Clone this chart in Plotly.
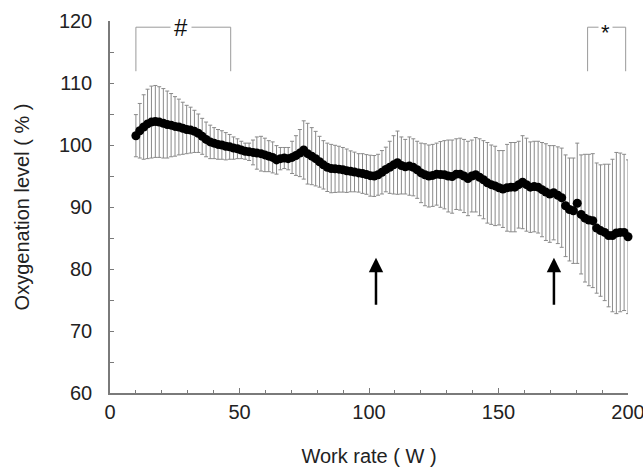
import numpy as np
import plotly.graph_objects as go

# Work rate (W): sampling grid from 10 W to 200 W
work_rate = np.linspace(10, 200, 127).round(1).tolist()

# Mean oxygenation level (%)
oxygenation = [
    101.5, 102.3, 102.9, 103.4, 103.7, 103.8, 103.7, 103.5, 103.3, 103.2,
    103.0, 102.9, 102.7, 102.5, 102.4, 102.2, 101.9, 101.4, 100.9, 100.5,
    100.3, 100.1, 100.0, 99.8, 99.7, 99.5, 99.4, 99.2, 99.0, 98.9,
    98.8, 98.7, 98.6, 98.4, 98.2, 98.0, 97.6, 97.8, 97.9, 97.8,
    98.0, 98.3, 98.7, 99.2, 98.6, 98.2, 97.8, 97.3, 96.8, 96.4,
    96.2, 96.15, 96.1, 96.0, 95.85, 95.75, 95.65, 95.5, 95.4, 95.25,
    95.05, 95.0, 95.2, 95.6, 96.05, 96.4, 96.8, 97.15, 96.7, 96.5,
    96.6, 96.4, 96.0, 95.5, 95.2, 95.0, 95.1, 95.3, 95.25, 95.2,
    95.0, 94.9, 95.3, 95.3, 95.0, 94.6, 95.0, 95.2, 94.8, 94.4,
    93.9, 93.6, 93.4, 93.1, 92.9, 93.1, 93.2, 93.2, 93.6, 94.0,
    93.6, 93.2, 93.3, 93.2, 92.8, 92.4, 92.1, 92.3, 91.9, 91.5,
    90.2, 89.6, 89.4, 90.6, 88.8, 88.2, 87.9, 87.8, 86.6, 86.2,
    85.9, 85.4, 85.4, 85.8, 85.9, 85.9, 85.2,
]

# Standard deviation (%)
sd = [
    3.4, 4.4, 5.2, 5.6, 5.8, 5.8, 5.7, 5.6, 5.4, 5.1,
    4.8, 4.5, 4.2, 3.9, 3.7, 3.4, 3.1, 2.9, 2.8, 2.7,
    2.5, 2.4, 2.3, 2.2, 2.0, 1.8, 1.6, 1.4, 1.3, 1.4,
    2.0, 2.6, 2.8, 2.7, 2.5, 2.5, 2.3, 1.8, 1.7, 1.8,
    2.6, 3.2, 3.8, 4.7, 4.9, 4.6, 4.4, 4.1, 3.9, 3.9,
    3.9, 3.8, 3.7, 3.6, 3.5, 3.3, 3.2, 3.1, 3.2, 3.2,
    3.3, 3.3, 3.3, 3.5, 3.6, 4.2, 4.7, 5.1, 4.6, 4.4,
    4.7, 4.6, 4.6, 4.8, 5.0, 5.0, 5.0, 5.0, 5.3, 5.5,
    5.8, 5.9, 5.7, 5.8, 5.9, 6.0, 5.8, 6.0, 6.2, 6.3,
    6.5, 6.4, 6.4, 6.0, 6.2, 7.0, 7.2, 7.2, 7.0, 7.5,
    7.5, 7.3, 7.3, 7.4, 7.6, 7.8, 7.8, 7.6, 7.8, 8.0,
    8.2, 8.3, 8.5, 9.7, 9.6, 10.3, 10.6, 10.8, 10.5, 10.6,
    11.0, 11.5, 12.3, 13.0, 12.8, 12.6, 12.4,
]

# Significance brackets: (start W, end W, label, label W)
brackets = [(10, 46.6, "#", 27.3), (184.4, 199.1, "*", 191.5)]
bracket_top, bracket_bottom = 119, 111.9

# Arrows: (W, tip level, tail level)
arrows = [(102.7, 81.8, 74.0), (171.4, 81.8, 74.0)]

FONT = "Arial, Liberation Sans, sans-serif"
TXT = "#222222"
AX = "#7a7a7a"

fig = go.Figure()
fig.add_trace(go.Scatter(
    x=work_rate, y=oxygenation, mode="markers",
    marker=dict(color="black", size=9),
    error_y=dict(type="data", array=sd, visible=True, color="#8a8a8a",
                 thickness=1, width=2),
    cliponaxis=False, showlegend=False,
))

for x0, x1, lab, xl in brackets:
    fig.add_trace(go.Scatter(x=[x0, x0, x1, x1],
                             y=[bracket_bottom, bracket_top, bracket_top, bracket_bottom],
                             mode="lines", line=dict(color="#9a9a9a", width=1),
                             hoverinfo="skip", showlegend=False, cliponaxis=False))
    fig.add_annotation(x=xl, y=bracket_top, text=lab, showarrow=False,
                       font=dict(family=FONT, size=(24 if lab == "#" else 22), color="#111"),
                       bgcolor="white", borderpad=(3 if lab == "#" else 2),
                       yshift=(-5 if lab == "*" else 0))

for xa, tip, tail in arrows:
    fig.add_annotation(x=xa, y=tip, ax=xa, ay=tail, axref="x", ayref="y",
                       xref="x", yref="y", text="", showarrow=True,
                       arrowhead=2, arrowsize=1.15, arrowwidth=2.5,
                       arrowcolor="black")

fig.update_layout(
    width=643, height=473,
    margin=dict(l=110, r=15, t=21, b=80, autoexpand=False),
    paper_bgcolor="white", plot_bgcolor="white",
    font=dict(family=FONT, size=20, color=TXT),
)
fig.update_xaxes(
    range=[0, 200], dtick=50, ticks="inside", ticklen=5, tickcolor=AX,
    minor=dict(dtick=10, ticks="inside", ticklen=3, tickcolor=AX),
    showline=True, linecolor=AX, linewidth=1.5, showgrid=False, zeroline=False,
    tickfont=dict(size=20, color=TXT), ticklabeloverflow="allow", automargin=False,
    title=dict(text="Work rate ( W )", font=dict(size=20, color=TXT), standoff=27),
)
fig.update_yaxes(
    range=[60, 120], dtick=10, ticks="inside", ticklen=4, tickcolor=AX,
    minor=dict(dtick=5, ticks="inside", ticklen=4, tickcolor=AX),
    showline=True, linecolor=AX, linewidth=1.5, showgrid=False, zeroline=False,
    tickfont=dict(size=20, color=TXT), ticklabelstandoff=12, automargin=False,
    title=dict(text="Oxygenation level ( % )", font=dict(size=20, color=TXT), standoff=24),
)

fig.write_html("out.html")
